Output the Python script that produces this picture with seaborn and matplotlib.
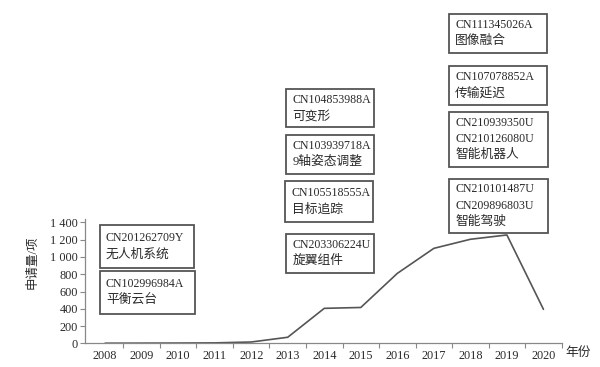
import matplotlib
matplotlib.use("Agg")
import matplotlib.pyplot as plt
from matplotlib.patches import Rectangle
from matplotlib.ticker import FixedLocator, FuncFormatter
import seaborn as sns
import pandas as pd

# ---- data ----
years = [2008, 2009, 2010, 2011, 2012, 2013, 2014, 2015, 2016, 2017, 2018, 2019, 2020]
counts = [1, 2, 3, 5, 15, 70, 405, 415, 810, 1100, 1205, 1255, 394]
y_ticks = [0, 200, 400, 600, 800, 1000, 1200, 1400]
y_label = "申请量/项"
x_label = "年份"

box_texts = [
    ["CN201262709Y", "无人机系统"],
    ["CN102996984A", "平衡云台"],
    ["CN104853988A", "可变形"],
    ["CN103939718A", "9轴姿态调整"],
    ["CN105518555A", "目标追踪"],
    ["CN203306224U", "旋翼组件"],
    ["CN111345026A", "图像融合"],
    ["CN107078852A", "传输延迟"],
    ["CN210939350U", "CN210126080U", "智能机器人"],
    ["CN210101487U", "CN209896803U", "智能驾驶"],
]

# ---- layout (pixel boxes: left, top, right, bottom) ----
box_px = [
    (99.5, 225, 193.5, 268),
    (99.5, 271, 194.5, 314),
    (286, 89, 373.5, 127),
    (286, 135, 373.5, 173.5),
    (285, 181.5, 373, 221.5),
    (286, 233.5, 373.5, 272.5),
    (448.5, 14, 547, 52.5),
    (448.5, 66, 547, 105),
    (448.5, 111.5, 547.5, 166.5),
    (448.5, 178.5, 547.5, 233),
]

W, H = 600, 367
FAM = ["Liberation Serif", "Noto Sans CJK SC", "DejaVu Sans"]
TXT = "#2a2a2a"

sns.set_theme(style="white")
plt.rcParams["font.family"] = FAM

fig = plt.figure(figsize=(W / 100, H / 100), dpi=100)
ax = fig.add_axes([85 / W, 1 - 343.3 / H, (561.7 - 85) / W, (343.3 - 219) / H])

df = pd.DataFrame({"year": years, "count": counts})
sns.lineplot(data=df, x="year", y="count", ax=ax, color="#555555", linewidth=1.2)

ax.set_xlim(2007.45, 2020.5)
ax.set_ylim(0, 1440)

for s in ["top", "right"]:
    ax.spines[s].set_visible(False)
for s in ["left", "bottom"]:
    ax.spines[s].set_color("#888888")
    ax.spines[s].set_linewidth(0.9)

ax.xaxis.set_major_locator(FixedLocator(years))
ax.set_xticklabels([str(y) for y in years])
ax.xaxis.set_minor_locator(FixedLocator([y + 0.5 for y in years]))
ax.tick_params(axis="x", which="major", length=0, pad=5, labelsize=8.8, labelcolor=TXT)
ax.tick_params(axis="x", which="minor", length=3.5, width=0.8, color="#888888", direction="out", bottom=True)
ax.yaxis.set_major_locator(FixedLocator(y_ticks))
ax.yaxis.set_major_formatter(FuncFormatter(lambda v, p: f"{int(v):,}".replace(",", " ")))
ax.tick_params(axis="y", which="major", length=3.5, width=0.8, color="#888888", direction="out",
               left=True, pad=1.5, labelsize=8.8, labelcolor=TXT)
ax.set_xlabel("")
ax.set_ylabel("")
ax.grid(False)

fig.text(33 / W, 1 - 262 / H, y_label, rotation=90, ha="center", va="center",
         fontsize=9, color=TXT, family=FAM)
fig.text(565 / W, 1 - 353 / H, x_label, ha="left", va="center",
         fontsize=9.2, color=TXT, family=FAM)

for lines, (l, t, r, b) in zip(box_texts, box_px):
    rect = Rectangle((l / W, 1 - b / H), (r - l) / W, (b - t) / H,
                     transform=fig.transFigure, facecolor="white",
                     edgecolor="#555555", linewidth=1.3)
    fig.add_artist(rect)
    n = len(lines)
    h = b - t
    spacing = 16.3
    first = t + h / 2 - spacing * (n - 1) / 2
    for i, line in enumerate(lines):
        yc = first + i * spacing
        is_code = line.startswith("CN")
        fig.text((l + 6.5) / W, 1 - yc / H, line, ha="left", va="center",
                 fontsize=8.6 if is_code else 9.2, color=TXT, family=FAM)

fig.savefig("out.png", dpi=100)
